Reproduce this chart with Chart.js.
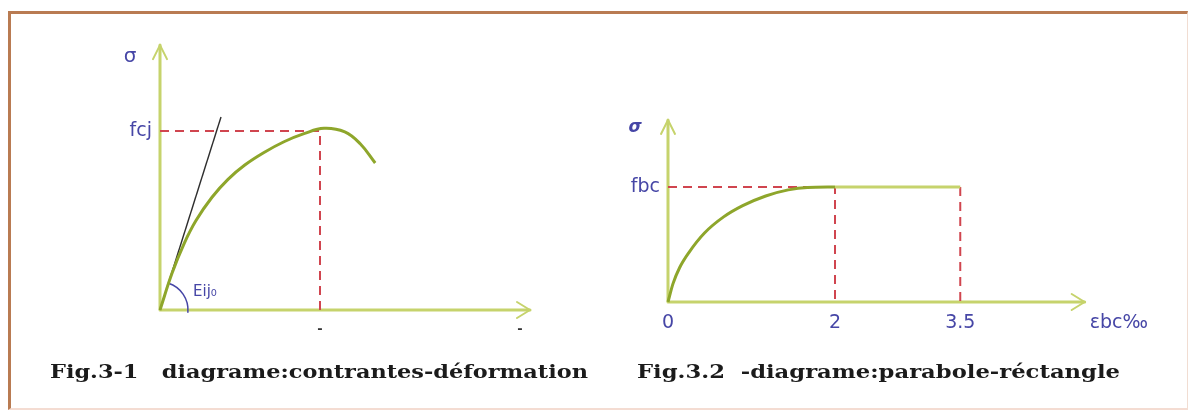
<!DOCTYPE html>
<html>
<head>
<meta charset="utf-8">
<script src="https://cdn.jsdelivr.net/npm/chart.js@4.4.1/dist/chart.umd.min.js"></script>
<style>
  body { margin: 0; background: #fff; width: 1188px; height: 410px; overflow: hidden; position: relative; }
  .frame { position: absolute; left: 8px; top: 11px; width: 1176px; height: 394px;
           border-top: 3px solid #b97b52; border-left: 3px solid #b97b52;
           border-right: 1px solid #f1ddd2; border-bottom: 2px solid #f4dcd2; }
  canvas { position: absolute; top: 0; }
  #c1 { left: 0; }
  #c2 { left: 594px; }
  .cap { position: absolute; top: 361px; font: bold 18px "DejaVu Serif", serif; color: #1b1b1b;
         white-space: pre; transform-origin: 0 0; }
</style>
</head>
<body>
<div class="frame"></div>
<canvas id="c1" width="594" height="410"></canvas>
<canvas id="c2" width="594" height="410"></canvas>
<div class="cap" id="cap1" style="left:50px" data-w="538">Fig.3-1   diagrame:contrantes-déformation</div>
<div class="cap" id="cap2" style="left:637px" data-w="483">Fig.3.2  -diagrame:parabole-réctangle</div>

<script>
// --- Fig 3-1 : stress-strain (stress relative to fcj)
const leftStrain = [0, 0.15, 0.3, 0.45, 0.65, 0.85, 1.06, 1.3, 1.55, 1.8, 2.05, 2.31, 2.5, 2.69];
const leftStress = [0, 0.205, 0.37, 0.5, 0.63, 0.73, 0.81, 0.88, 0.94, 0.985, 1.015, 0.995, 0.93, 0.821];
const tangentStrain = [0, 0.7625];
const tangentStress = [0, 1.078];
const fcjGuideX = [0, 2, 2];
const fcjGuideY = [1, 1, 0];
const leftXTicks = [2, 4.5];
const leftXLabels = ['-', '-'];
const leftYTicks = [1];
const leftYLabels = ['fcj'];

// --- Fig 3.2 : parabola-rectangle
const rightStrain = [0, 0.06, 0.14, 0.25, 0.437, 0.666, 0.895, 1.17, 1.44, 1.67, 2];
const rightStress = [0, 0.16, 0.3, 0.43, 0.6, 0.74, 0.838, 0.922, 0.975, 0.996, 1.0];
const plateauX = [2, 3.5];
const plateauY = [1, 1];
const fbcGuideX = [0, 2, 2];
const fbcGuideY = [1, 1, 0];
const ultGuideX = [3.5, 3.5];
const ultGuideY = [1, 0];
const rightXTicks = [0, 2, 3.5, 5.4];
const rightXLabels = ['0', '2', '3.5', 'εbc‰'];
const rightYTicks = [1];
const rightYLabels = ['fbc'];

const axisColor = '#c6d36c';
const curveColor = '#8ea62b';
const dashColor = '#d0454f';
const labelColor = '#4646a6';

function pts(xs, ys) {
    return xs.map((v, i) => ({ x: v, y: ys[i] }));
}

// axes drawn as arrows, plus the σ name and the optional angle mark
const arrowAxes = {
    id: 'arrowAxes',
    beforeDatasetsDraw(chart, args, opts) {
        const { ctx, scales: { x, y } } = chart;
        const ox = x.getPixelForValue(0), oy = y.getPixelForValue(0);
        const ex = x.getPixelForValue(opts.xEnd), ey = y.getPixelForValue(opts.yEnd);
        ctx.save();
        ctx.strokeStyle = axisColor;
        ctx.lineWidth = 3;
        ctx.lineCap = 'round';
        ctx.lineJoin = 'round';
        ctx.beginPath();
        ctx.moveTo(ox, ey);
        ctx.lineTo(ox, oy);
        ctx.lineTo(ex, oy);
        ctx.stroke();
        ctx.lineWidth = 2;
        ctx.beginPath();
        ctx.moveTo(ox - 7, ey + 14);
        ctx.lineTo(ox, ey);
        ctx.lineTo(ox + 7, ey + 14);
        ctx.stroke();
        ctx.beginPath();
        ctx.moveTo(ex - 13, oy - 8);
        ctx.lineTo(ex, oy);
        ctx.lineTo(ex - 13, oy + 8);
        ctx.stroke();

        ctx.fillStyle = labelColor;
        ctx.font = opts.sigmaFont;
        ctx.textAlign = 'center';
        ctx.textBaseline = 'middle';
        ctx.fillText('σ', ox + opts.sigmaDx, ey + opts.sigmaDy);

        if (opts.angle) {
            const tx = x.getPixelForValue(tangentStrain[1]);
            const ty = y.getPixelForValue(tangentStress[1]);
            const a = Math.atan2(ty - oy, tx - ox);
            ctx.strokeStyle = labelColor;
            ctx.lineWidth = 1.5;
            ctx.beginPath();
            ctx.arc(ox, oy, 28, a, 0.08);
            ctx.stroke();
            ctx.font = '15px "DejaVu Sans", sans-serif';
            ctx.textAlign = 'left';
            ctx.textBaseline = 'alphabetic';
            ctx.fillText('Eij₀', ox + 33, oy - 14);
        }
        ctx.restore();
    }
};

function makeChart(id, cfg) {
    return new Chart(document.getElementById(id), {
        type: 'scatter',
        data: { datasets: cfg.datasets },
        options: {
            responsive: false,
            animation: false,
            layout: { padding: cfg.padding },
            plugins: {
                legend: { display: false },
                tooltip: { enabled: false },
                arrowAxes: cfg.axes
            },
            elements: { point: { radius: 0 } },
            scales: {
                x: {
                    type: 'linear', min: 0, max: cfg.xMax,
                    border: { display: false },
                    grid: { display: false, drawTicks: false },
                    afterFit(s) { s.height = cfg.xHeight; },
                    afterBuildTicks(s) { s.ticks = cfg.xTicks.map(v => ({ value: v })); },
                    ticks: {
                        padding: cfg.xPad,
                        maxRotation: 0,
                        autoSkip: false,
                        color: cfg.xColor,
                        font: cfg.xFont,
                        callback: v => cfg.xLabels[cfg.xTicks.indexOf(v)]
                    }
                },
                y: {
                    type: 'linear', min: 0, max: cfg.yMax,
                    border: { display: false },
                    grid: { display: false, drawTicks: false },
                    afterFit(s) { s.width = cfg.yWidth; },
                    afterBuildTicks(s) { s.ticks = cfg.yTicks.map(v => ({ value: v })); },
                    ticks: {
                        padding: 8,
                        autoSkip: false,
                        color: labelColor,
                        font: { family: '"DejaVu Sans", sans-serif', size: 19 },
                        callback: v => cfg.yLabels[cfg.yTicks.indexOf(v)]
                    }
                }
            }
        },
        plugins: [arrowAxes]
    });
}

const line = (data, color, width, dash) => ({
    data, showLine: true, borderColor: color, borderWidth: width,
    borderDash: dash || [], pointRadius: 0, clip: false, fill: false
});

makeChart('c1', {
    padding: { left: 0, right: 14, top: 40, bottom: 0 },
    xMax: 5.25, yMax: 1.5084, xHeight: 100, yWidth: 160,
    xTicks: leftXTicks, xLabels: leftXLabels, xPad: 12,
    xColor: '#333', xFont: { family: '"DejaVu Sans", sans-serif', size: 13, weight: 'bold' },
    yTicks: leftYTicks, yLabels: leftYLabels,
    axes: { xEnd: 4.625, yEnd: 1.48, sigmaDx: -30, sigmaDy: 12,
            sigmaFont: '20px "DejaVu Sans", sans-serif', angle: true },
    datasets: [
        Object.assign(line(pts(leftStrain, leftStress), curveColor, 3), { tension: 0.4 }),
        line(pts(tangentStrain, tangentStress), '#2e2e2e', 1.4),
        line(pts(fcjGuideX, fcjGuideY), dashColor, 2, [9, 6])
    ]
});

makeChart('c2', {
    padding: { left: 0, right: 28, top: 110, bottom: 0 },
    xMax: 5.892, yMax: 1.6696, xHeight: 108, yWidth: 74,
    xTicks: rightXTicks, xLabels: rightXLabels, xPad: 10,
    xColor: labelColor, xFont: { family: '"DejaVu Sans", sans-serif', size: 19 },
    yTicks: rightYTicks, yLabels: rightYLabels,
    axes: { xEnd: 4.99, yEnd: 1.583, sigmaDx: -33, sigmaDy: 8,
            sigmaFont: 'italic bold 17px "DejaVu Sans", sans-serif', angle: false },
    datasets: [
        Object.assign(line(pts(rightStrain, rightStress), curveColor, 3), { cubicInterpolationMode: 'monotone' }),
        line(pts(plateauX, plateauY), axisColor, 3),
        line(pts(fbcGuideX, fbcGuideY), dashColor, 2, [9, 6]),
        line(pts(ultGuideX, ultGuideY), dashColor, 2, [9, 6])
    ]
});

// stretch captions to the width they take in the picture
document.querySelectorAll('.cap').forEach(el => {
    const w = el.getBoundingClientRect().width;
    el.style.transform = 'scaleX(' + (parseFloat(el.dataset.w) / w) + ')';
});
</script>
</body>
</html>
